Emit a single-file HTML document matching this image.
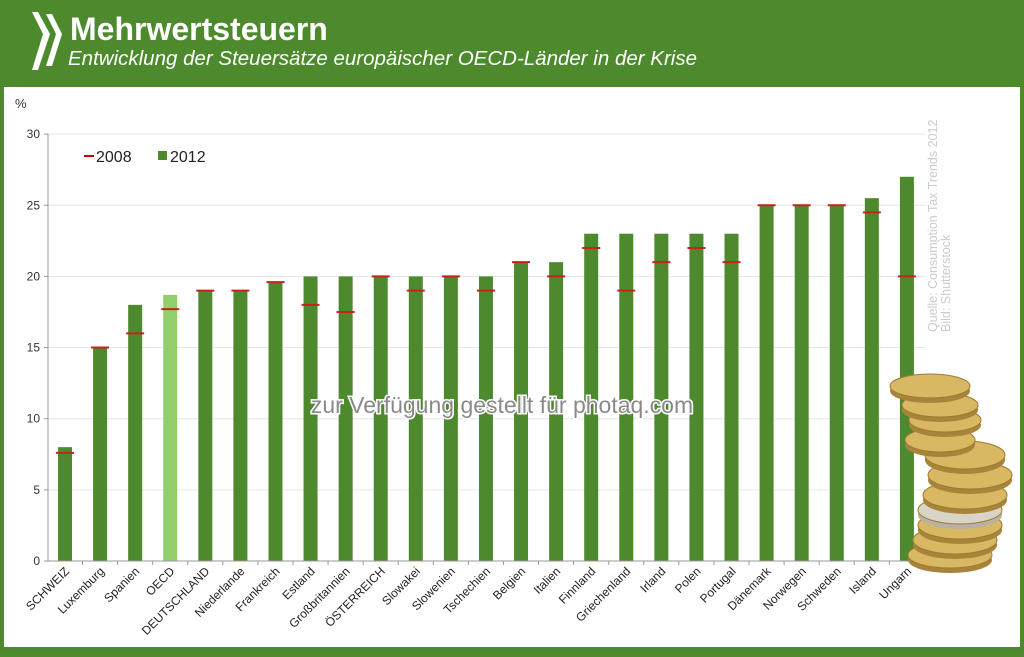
<!DOCTYPE html>
<html><head><meta charset="utf-8"><style>
body{margin:0;width:1024px;height:652px;overflow:hidden;background:#4e8a2e;font-family:"Liberation Sans",sans-serif}
</style></head><body>
<svg width="1024" height="652" xmlns="http://www.w3.org/2000/svg" font-family="Liberation Sans, sans-serif">
<rect width="1024" height="652" fill="#4d8a2d"/>
<rect x="4" y="87" width="1016" height="560" fill="#fff"/>
<!-- logo -->
<path d="M32,12 L38,12 L50,34 L38,70 L32,70 L43,34Z" fill="#fff"/>
<path d="M46,14 L52,14 L62,34 L52,66 L46,66 L56,34Z" fill="#fff"/>
<text x="70" y="40" font-size="32" font-weight="bold" fill="#fff">Mehrwertsteuern</text>
<text x="68" y="65" font-size="20.5" font-style="italic" fill="#fff">Entwicklung der Steuersätze europäischer OECD-Länder in der Krise</text>
<text x="15" y="108" font-size="13" fill="#333">%</text>
<g id="grid" stroke="#e6e6e6" stroke-width="1"></g>
<g id="bars"></g>
<line x1="48" y1="134" x2="48" y2="561" stroke="#999"/>
<g id="yt" font-size="12" fill="#333" text-anchor="end"></g>
<g id="labels" font-size="12" fill="#222" text-anchor="end"></g>
<line x1="84" y1="156" x2="94" y2="156" stroke="#c00" stroke-width="2"/>
<text x="96" y="162" font-size="16" fill="#222">2008</text>
<rect x="158" y="151" width="9" height="9" fill="#4d8a2d"/>
<text x="170" y="162" font-size="16" fill="#222">2012</text>
<text transform="translate(937,332) rotate(-90)" font-size="12.5" fill="#ccc">Quelle: Consumption Tax Trends 2012</text>
<text transform="translate(950,332) rotate(-90)" font-size="12.5" fill="#ccc">Bild: Shutterstock</text>
<g id="coins"></g>
<text x="502" y="413" font-size="23" text-anchor="middle" fill="#8a8a8a" stroke="#fff" stroke-width="3" paint-order="stroke">zur Verfügung gestellt für photaq.com</text>
</svg>
<script>
const ns="http://www.w3.org/2000/svg";
function el(t,a,p,txt){const e=document.createElementNS(ns,t);for(const k in a)e.setAttribute(k,a[k]);if(txt)e.textContent=txt;document.getElementById(p).appendChild(e);}
const Y=v=>561-v*14.23;
for(let v=0;v<=30;v+=5){if(v>0)el('line',{x1:48,x2:925,y1:Y(v),y2:Y(v)},'grid');el('line',{x1:44,x2:48,y1:Y(v),y2:Y(v),stroke:'#999'},'grid');el('text',{x:40,y:Y(v)+4},'yt',String(v));}
const d=[["SCHWEIZ",8,7.6],["Luxemburg",15,15],["Spanien",18,16],["OECD",18.7,17.7],["DEUTSCHLAND",19,19],["Niederlande",19,19],["Frankreich",19.6,19.6],["Estland",20,18],["Großbritannien",20,17.5],["ÖSTERREICH",20,20],["Slowakei",20,19],["Slowenien",20,20],["Tschechien",20,19],["Belgien",21,21],["Italien",21,20],["Finnland",23,22],["Griechenland",23,19],["Irland",23,21],["Polen",23,22],["Portugal",23,21],["Dänemark",25,25],["Norwegen",25,25],["Schweden",25,25],["Island",25.5,24.5],["Ungarn",27,20]];
d.forEach((r,i)=>{const c=65+i*35.08;
el('rect',{x:c-7,y:Y(r[1]),width:14,height:561-Y(r[1]),fill:i==3?'#92cf6a':'#4d8a2d'},'bars');
el('line',{x1:c-9,x2:c+9,y1:Y(r[2]),y2:Y(r[2]),stroke:'#c8201e','stroke-width':2},'bars');
el('line',{x1:c+17.5,x2:c+17.5,y1:561,y2:565,stroke:'#999'},'bars');
el('text',{x:c+5,y:572,transform:`rotate(-45 ${c+5} 572)`},'labels',r[0]);});
el('line',{x1:48,x2:925,y1:561,y2:561,stroke:'#999'},'bars');
const coins=[[950,555,42,13],[955,540,42,14],[960,525,42,14],[960,510,42,14],[965,495,42,14],[970,475,42,14],[965,455,40,14],[940,440,35,12],[945,420,36,12],[940,405,38,12],[930,386,40,12]];
coins.forEach((c,i)=>{el('ellipse',{cx:c[0],cy:c[1]+5,rx:c[2],ry:c[3],fill:i==3?'#b9b2a0':'#a8843a'},'coins');el('ellipse',{cx:c[0],cy:c[1],rx:c[2],ry:c[3],fill:i==3?'#d8d4c8':'#d9b863',stroke:'#9c7a30'},'coins');});
</script>
</body></html>
